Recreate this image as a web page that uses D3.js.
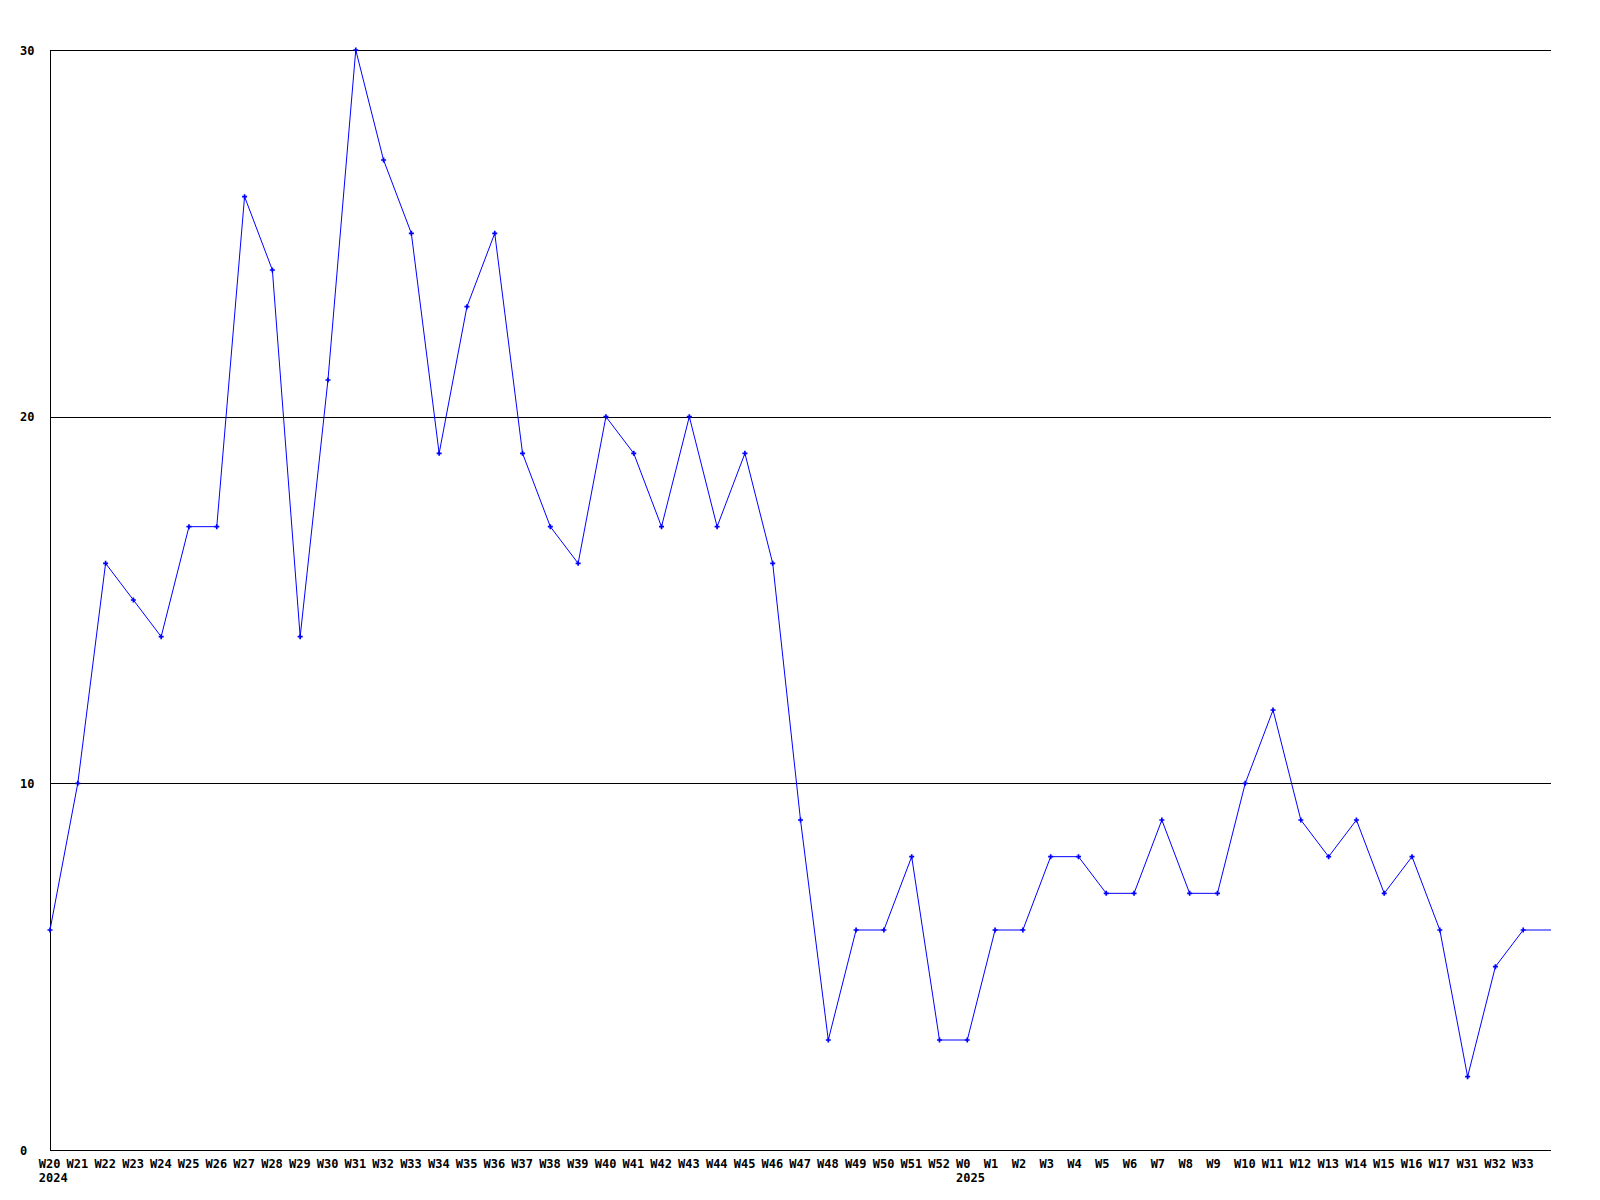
<!DOCTYPE html>
<html>
<head>
<meta charset="utf-8">
<script src="https://cdn.jsdelivr.net/npm/d3@7"></script>
<style>
html, body { margin: 0; padding: 0; background: #ffffff; }
svg { display: block; }
text { font-family: "DejaVu Sans Mono", "Liberation Mono", monospace; font-weight: bold; font-size: 12px; fill: #000; }
</style>
</head>
<body>
<script>
// ---- data ----
const weeks = ["W20","W21","W22","W23","W24","W25","W26","W27","W28","W29","W30","W31","W32","W33","W34","W35","W36","W37","W38","W39","W40","W41","W42","W43","W44","W45","W46","W47","W48","W49","W50","W51","W52","W0","W1","W2","W3","W4","W5","W6","W7","W8","W9","W10","W11","W12","W13","W14","W15","W16","W17","W31","W32","W33"];
const counts = [6,10,16,15,14,17,17,26,24,14,21,30,27,25,19,23,25,19,17,16,20,19,17,20,17,19,16,9,3,6,6,8,3,3,6,6,8,8,7,7,9,7,7,10,12,9,8,9,7,8,6,2,5,6];
const yearLabels = [{ index: 0, label: "2024" }, { index: 33, label: "2025" }];
const yTicks = [0, 10, 20, 30];

// ---- layout ----
const W = 1600, H = 1200;
const mLeft = 50, mRight = 1551, mTop = 50, mBottom = 1150;
const labelShift = 11.2;

const svg = d3.select("body").append("svg").attr("width", W).attr("height", H);

const x = d3.scaleLinear().domain([0, weeks.length]).range([mLeft, mRight]);
const y = d3.scaleLinear().domain([0, 30]).range([mBottom, mTop]);

// grid lines
svg.append("g").selectAll("line").data(yTicks.filter(d => d > 0)).join("line")
  .attr("x1", mLeft).attr("x2", mRight)
  .attr("y1", d => Math.round(y(d)) + 0.5).attr("y2", d => Math.round(y(d)) + 0.5)
  .attr("stroke", "#000").attr("stroke-width", 1).attr("shape-rendering", "crispEdges");

// axes lines
svg.append("line").attr("x1", mLeft + 0.5).attr("x2", mLeft + 0.5).attr("y1", mTop).attr("y2", mBottom)
  .attr("stroke", "#000").attr("shape-rendering", "crispEdges");
svg.append("line").attr("x1", mLeft).attr("x2", mRight).attr("y1", mBottom + 0.5).attr("y2", mBottom + 0.5)
  .attr("stroke", "#000").attr("shape-rendering", "crispEdges");

// y labels
svg.append("g").selectAll("text").data(yTicks).join("text")
  .attr("x", 20).attr("y", d => y(d) + 4.5)
  .text(d => d);

// x labels (left aligned just before each point)
svg.append("g").selectAll("text").data(weeks).join("text")
  .attr("x", (d, i) => x(i) - labelShift).attr("y", 1167.5)
  .text(d => d);

// year labels
svg.append("g").selectAll("text").data(yearLabels).join("text")
  .attr("x", d => x(d.index) - labelShift).attr("y", 1181.5)
  .text(d => d.label);

// line series (extended flat to the right edge)
const pts = counts.map((v, i) => [x(i), y(v)]);
pts.push([x(weeks.length), y(counts[counts.length - 1])]);
svg.append("path")
  .attr("d", d3.line()(pts))
  .attr("fill", "none").attr("stroke", "#0000ff").attr("stroke-width", 1);

// markers
svg.append("g").selectAll("path").data(counts).join("path")
  .attr("transform", (d, i) => `translate(${x(i)},${y(d)})`)
  .attr("d", d3.symbol().type(d3.symbolCross).size(14))
  .attr("fill", "#0000ff");
</script>
</body>
</html>
